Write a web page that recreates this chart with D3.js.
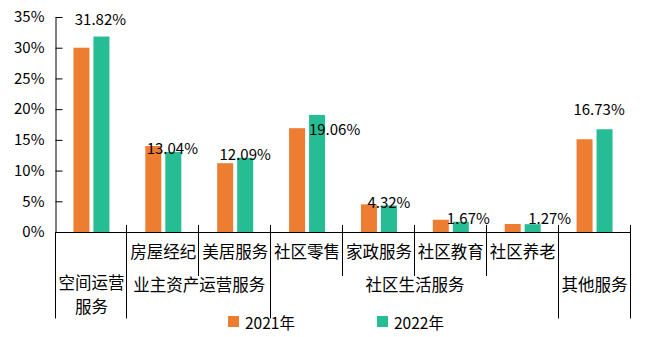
<!DOCTYPE html>
<html><head><meta charset="utf-8">
<script src="https://cdn.jsdelivr.net/npm/d3@7"></script>
<style>
html,body{margin:0;padding:0;background:#fff;}
svg{display:block;}
text{font-family:"Noto Sans CJK SC","Noto Sans",sans-serif;fill:#000;}
</style></head>
<body>
<script>
// ---- data ----
const categories = ["空间运营服务","房屋经纪","美居服务","社区零售","家政服务","社区教育","社区养老","其他服务"];
const groupNames = ["空间运营服务","业主资产运营服务","社区生活服务","其他服务"];
const groupSizes = [1, 2, 4, 1];
const seriesNames = ["2021年","2022年"];
const values2021 = [30.0, 14.0, 11.2, 16.9, 4.5, 2.0, 1.3, 15.1];
const values2022 = [31.82, 13.04, 12.09, 19.06, 4.32, 1.67, 1.27, 16.73];
const yTicks = [0, 5, 10, 15, 20, 25, 30, 35];

// ---- layout ----
const W = 657, H = 337;
const mLeft = 55.5, mRight = 630.5, mTop = 17, mBottom = 232;
const colors = ["#ED7D31", "#26BD94"];
// data label nudges (px) relative to top-centre of the 2022 bar
const labelDx = [-1, -1, 0, 17.5, 0, 7.5, 17, -5.5];
const labelDy = [-18, -4, -4, 14, -4, -4, -7, -21];

const svg = d3.select("body").append("svg").attr("width", W).attr("height", H);

const x = d3.scaleBand().domain(categories).range([mLeft, mRight]).padding(0);
const x1 = d3.scaleBand().domain(seriesNames).range([0, 36]).paddingInner(0.2);
const y = d3.scaleLinear().domain([0, 35]).range([mBottom, mTop]);

const series = [values2021, values2022];
const off = (x.bandwidth() - 36) / 2;

// bars
seriesNames.forEach((s, si) => {
  svg.append("g").selectAll("rect").data(series[si]).join("rect")
    .attr("x", (d, i) => x(categories[i]) + off + x1(s))
    .attr("width", x1.bandwidth())
    .attr("y", d => y(d))
    .attr("height", d => mBottom - y(d))
    .attr("fill", colors[si]);
});

// y axis
const yAxis = d3.axisLeft(y).tickValues(yTicks).tickFormat(d => d + "%")
  .tickSizeInner(-7).tickSizeOuter(0).tickPadding(11);
const gy = svg.append("g").attr("transform", `translate(${mLeft},0)`).call(yAxis);
gy.selectAll("path,line").attr("stroke", "#000");
gy.selectAll("text").style("font-size", "15px").attr("fill", "#000")
  .style("font-family", '"Noto Sans CJK SC",sans-serif');

// x axis line
svg.append("line").attr("x1", mLeft).attr("x2", mRight).attr("y1", mBottom + 0.5).attr("y2", mBottom + 0.5)
  .attr("stroke", "#000");

// boundaries
const groupStarts = [];
let acc = 0;
groupSizes.forEach(n => { groupStarts.push(acc); acc += n; });
const groupBoundaryIdx = new Set([...groupStarts, categories.length]);
for (let i = 0; i <= categories.length; i++) {
  const bx = Math.round(i < categories.length ? x(categories[i]) : x.range()[1]) - 0.5;
  const isGroup = groupBoundaryIdx.has(i);
  svg.append("line").attr("x1", bx).attr("x2", bx)
    .attr("y1", i === 0 ? mBottom : 225).attr("y2", isGroup ? 318.5 : 276)
    .attr("stroke", "#000");
}

// category labels (first level, only for multi-category groups)
groupSizes.forEach((n, gi) => {
  if (n > 1) {
    for (let k = 0; k < n; k++) {
      const c = categories[groupStarts[gi] + k];
      svg.append("text").attr("x", x(c) + x.bandwidth() / 2).attr("y", 251)
        .attr("text-anchor", "middle").attr("dominant-baseline", "central")
        .style("font-size", "16.5px").text(c);
    }
  }
});

// group labels (wrapped)
groupNames.forEach((g, gi) => {
  const x0 = x(categories[groupStarts[gi]]);
  const w = groupSizes[gi] * x.bandwidth();
  const cx = x0 + w / 2;
  const maxChars = Math.floor(w / 16.5);
  const lines = [];
  for (let p = 0; p < g.length; p += maxChars) lines.push(g.slice(p, p + maxChars));
  const y0 = lines.length > 1 ? 282 : 283.5;
  const t = svg.append("text").attr("x", cx).attr("y", y0)
    .attr("text-anchor", "middle").attr("dominant-baseline", "central")
    .style("font-size", "16.5px");
  lines.forEach((ln, li) => {
    t.append("tspan").attr("x", cx).attr("dy", li === 0 ? 0 : 24).text(ln);
  });
});

// data labels for 2022
svg.append("g").selectAll("text").data(values2022).join("text")
  .attr("x", (d, i) => x(categories[i]) + off + x1(seriesNames[1]) + x1.bandwidth() / 2 + labelDx[i])
  .attr("y", (d, i) => y(d) + labelDy[i])
  .attr("text-anchor", "middle").attr("dominant-baseline", "central")
  .style("font-size", "15px")
  .text(d => d.toFixed(2) + "%");

// legend
const legendX = [228, 377];
seriesNames.forEach((s, si) => {
  svg.append("rect").attr("x", legendX[si]).attr("y", 316).attr("width", 11).attr("height", 11)
    .attr("fill", colors[si]);
  svg.append("text").attr("x", legendX[si] + 17).attr("y", 321.5)
    .attr("dominant-baseline", "central").style("font-size", "15.5px").text(s);
});
</script>
</body></html>
